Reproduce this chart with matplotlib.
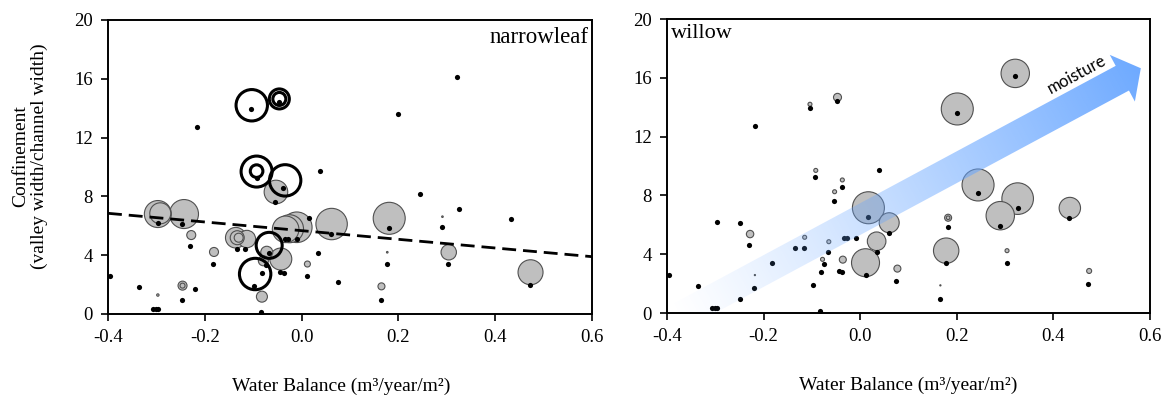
import numpy as np
import matplotlib.pyplot as plt
from matplotlib.patches import Polygon

plt.rcParams['font.family'] = ['Liberation Serif', 'DejaVu Serif']

# sampling sites (shown as black dots in both panels)
site_x = [-0.396, -0.336, -0.306, -0.301, -0.296, -0.296, -0.248, -0.248, -0.230, -0.220,
          -0.217, -0.183, -0.134, -0.116, -0.104, -0.098, -0.093, -0.083, -0.081, -0.074,
          -0.067, -0.054, -0.047, -0.044, -0.037, -0.038, -0.034, -0.028, -0.009, 0.011,
          0.016, 0.034, 0.039, 0.060, 0.075, 0.165, 0.177, 0.181, 0.200, 0.244,
          0.290, 0.303, 0.321, 0.326, 0.433, 0.472]
site_y = [2.57, 1.82, 0.34, 0.34, 0.34, 6.17, 6.15, 0.96, 4.60, 1.72,
          12.73, 3.42, 4.39, 4.39, 13.97, 1.90, 9.25, 0.15, 2.78, 3.35,
          4.12, 7.65, 14.45, 2.88, 2.79, 8.55, 5.12, 5.12, 5.12, 2.56,
          6.52, 4.12, 9.72, 5.41, 2.15, 0.96, 3.42, 5.82, 13.58, 8.14,
          5.93, 3.42, 16.13, 7.16, 6.48, 1.97]

# narrowleaf - gray bubbles (size = bubble radius value)
nl_x = [-0.297, -0.292, -0.243, -0.228, -0.181, -0.246, -0.246, -0.297, -0.136, -0.133,
        -0.130, -0.113, -0.072, -0.079, -0.082, -0.043, -0.053, -0.033, -0.025, -0.010,
        0.062, 0.012, 0.181, 0.291, 0.177, 0.165, 0.304, 0.473]
nl_y = [6.80, 6.85, 6.80, 5.37, 4.22, 1.93, 1.93, 1.29, 5.19, 5.19,
        5.19, 5.10, 4.20, 3.62, 1.18, 3.74, 8.30, 5.76, 5.80, 5.90,
        6.12, 3.40, 6.51, 6.62, 4.20, 1.88, 4.20, 2.84]
nl_size = [13.5, 10.5, 14.5, 4.5, 4.5, 4.5, 2.5, 1.2, 10.3, 7.0,
           4.5, 8.7, 6.0, 5.0, 5.5, 11.0, 11.8, 13.3, 14.0, 15.3,
           15.7, 3.0, 16.0, 0.8, 0.8, 3.5, 7.7, 12.5]

# narrowleaf - open black rings
ring_x = [-0.103, -0.046, -0.046, -0.093, -0.093, -0.034, -0.067, -0.096]
ring_y = [14.20, 14.63, 14.63, 9.69, 9.72, 9.09, 4.67, 2.72]
ring_size = [15.7, 10.0, 6.5, 15.5, 6.3, 15.7, 13.0, 15.7]

# narrowleaf trend line
trend_x = [-0.4, 0.6]
trend_y = [6.85, 3.90]

# willow - gray bubbles
wl_x = [-0.228, -0.218, -0.115, -0.104, -0.092, -0.078, -0.065, -0.053, -0.047, -0.037,
        -0.036, 0.011, 0.017, 0.034, 0.060, 0.077, 0.166, 0.178, 0.182, 0.182,
        0.201, 0.321, 0.244, 0.290, 0.326, 0.434, 0.304, 0.474]
wl_y = [5.37, 2.58, 5.15, 14.20, 9.70, 3.65, 4.85, 8.25, 14.67, 9.05,
        3.63, 3.42, 7.16, 4.88, 6.14, 3.02, 1.88, 4.24, 6.48, 6.48,
        13.88, 16.30, 8.71, 6.62, 7.78, 7.14, 4.24, 2.86]
wl_size = [3.7, 0.6, 2.0, 2.0, 2.0, 2.0, 2.0, 2.0, 4.0, 2.0,
           3.5, 14.0, 16.0, 9.3, 10.0, 3.5, 0.6, 12.7, 3.5, 1.8,
           16.0, 14.2, 16.0, 14.2, 15.8, 10.7, 2.0, 2.5]

xticks = [-0.4, -0.2, 0.0, 0.2, 0.4, 0.6]
xticklabels = ['-0.4', '-0.2', '0.0', '0.2', '0.4', '0.6']
yticks = [0, 4, 8, 12, 16, 20]

# moisture arrow (data coords of tail and tip)
arrow_tail = (-0.381, -0.34)
arrow_tip = (0.581, 16.65)


def area(r):
    # radius in pixels -> scatter marker area in pt^2 (dpi 100)
    return (np.asarray(r, dtype=float) * 2 * 0.72) ** 2


def style(ax):
    ax.set_xlim(-0.4, 0.6)
    ax.set_ylim(0, 20)
    ax.set_xticks(xticks)
    ax.set_xticklabels(xticklabels)
    ax.set_yticks(yticks)
    ax.tick_params(direction='out', length=5, width=1.2, labelsize=13.5, pad=6)
    for s in ax.spines.values():
        s.set_linewidth(1.4)
    ax.set_xlabel('Water Balance (m\u00b3/year/m\u00b2)', fontsize=14, labelpad=25)


def bubbles(ax, x, y, r):
    order = np.argsort(r)[::-1]
    ax.scatter(np.asarray(x)[order], np.asarray(y)[order], s=area(np.asarray(r)[order]),
               facecolor='#bfbfbf', edgecolor='#505050', linewidth=0.8, zorder=2)


def gradient_arrow(ax, tail, tip, shaft_w=28, head_w=53, head_l=21):
    tr = ax.transData
    p0 = tr.transform(tail)
    p1 = tr.transform(tip)
    d = p1 - p0
    L = np.hypot(*d)
    d = d / L
    n = np.array([-d[1], d[0]])
    base = p1 - d * head_l
    pts = [p0 + n * shaft_w / 2, base + n * shaft_w / 2, base + n * head_w / 2, p1,
           base - n * head_w / 2, base - n * shaft_w / 2, p0 - n * shaft_w / 2]
    poly = Polygon(tr.inverted().transform(pts), closed=True, facecolor='none',
                   edgecolor='none', transform=ax.transData)
    ax.add_patch(poly)
    gx, gy = np.meshgrid(np.linspace(-0.4, 0.6, 500), np.linspace(0, 20, 400))
    disp = tr.transform(np.column_stack([gx.ravel(), gy.ravel()]))
    t = np.clip(((disp - p0) @ d) / L, 0, 1).reshape(gx.shape)
    img = np.zeros(gx.shape + (4,))
    img[..., 0] = 0.40
    img[..., 1] = 0.65
    img[..., 2] = 1.0
    img[..., 3] = 0.95 * t ** 1.15
    im = ax.imshow(img, extent=[-0.4, 0.6, 0, 20], origin='lower', aspect='auto',
                   zorder=4, interpolation='bilinear')
    im.set_clip_path(poly)
    ax.set_xlim(-0.4, 0.6)
    ax.set_ylim(0, 20)
    return np.degrees(np.arctan2(d[1], d[0]))


fig = plt.figure(figsize=(11.72, 3.96), dpi=100)
ax1 = fig.add_axes([108 / 1172, 82 / 396, 484 / 1172, 294 / 396])
ax2 = fig.add_axes([667 / 1172, 83 / 396, 483 / 1172, 294 / 396])

# narrowleaf
style(ax1)
ax1.xaxis.set_label_coords(0.482, -0.215)
bubbles(ax1, nl_x, nl_y, nl_size)
ax1.scatter(site_x, site_y, s=14, color='black', linewidth=0, zorder=3)
ax1.scatter(ring_x, ring_y, s=area(ring_size), facecolor='none', edgecolor='black',
            linewidth=2.2, zorder=5)
ax1.plot(trend_x, trend_y, color='black', linestyle=(0, (5, 2.5)), linewidth=2, zorder=4)
ax1.text(0.992, 0.942, 'narrowleaf', transform=ax1.transAxes, ha='right', va='center',
         fontsize=16.5)
ax1.set_ylabel('Confinement\n(valley width/channel width)', fontsize=14, linespacing=1.1)
ax1.yaxis.set_label_coords(-0.124, 0.537)

# willow
style(ax2)
ax2.xaxis.set_label_coords(0.5, -0.215)
bubbles(ax2, wl_x, wl_y, wl_size)
ax2.scatter(site_x, site_y, s=14, color='black', linewidth=0, zorder=3)
ang = gradient_arrow(ax2, arrow_tail, arrow_tip)
ax2.text(0.448, 16.26, 'moisture', rotation=ang, rotation_mode='anchor', ha='center',
         va='center', fontsize=12, family=['Lato', 'DejaVu Sans'], zorder=6)
ax2.text(0.008, 0.952, 'willow', transform=ax2.transAxes, ha='left', va='center',
         fontsize=16)

fig.savefig('out.png', dpi=100)
